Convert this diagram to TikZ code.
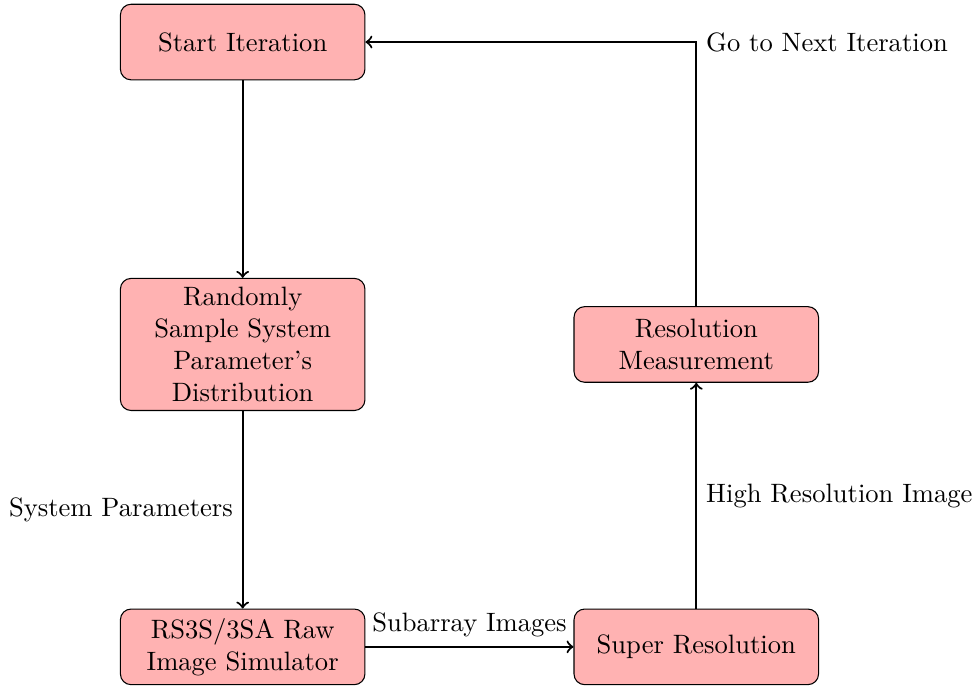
\documentclass[tikz,border=0pt]{standalone}
\usepackage{amsmath}
\usepackage{tikz}
\usetikzlibrary{arrows,shapes}
\usetikzlibrary{positioning}
\usetikzlibrary{calc}
\tikzstyle{process} = [draw, rounded corners, fill=red!30, text width=3cm, minimum height=1cm, align=center]
\tikzstyle{flowarrow} = [thick,->]

\begin{document}
\begin{tikzpicture}
		\useasboundingbox (-3.21, 0.556) rectangle (9.70, -8.505);
		% Left column
		\node [process] (start) at (0, 0) {Start Iteration};
		\node [process] (sample) at (0, -4) {Randomly\\ Sample System\\ Parameter's\\ Distribution};
		\node [process] (sim) at (0, -8) {RS3S/3SA Raw Image Simulator};
		% Right column
		\node [process] (sr) at (6, -8) {Super Resolution};
		\node [process] (meas) at (6, -4) {Resolution Measurement};
		% Connections
		\draw [flowarrow] (start)--(sample);
		\draw [flowarrow] (sample)--node[left] {System Parameters} (sim);
		\draw [flowarrow] (sim)--node[above] {Subarray Images} (sr);
		\draw [flowarrow] (sr)--node[right] {High Resolution Image} (meas);
		\draw [flowarrow] (meas) |- node[pos=0.5, right] {Go to Next Iteration} (start);
\end{tikzpicture}
\end{document}
